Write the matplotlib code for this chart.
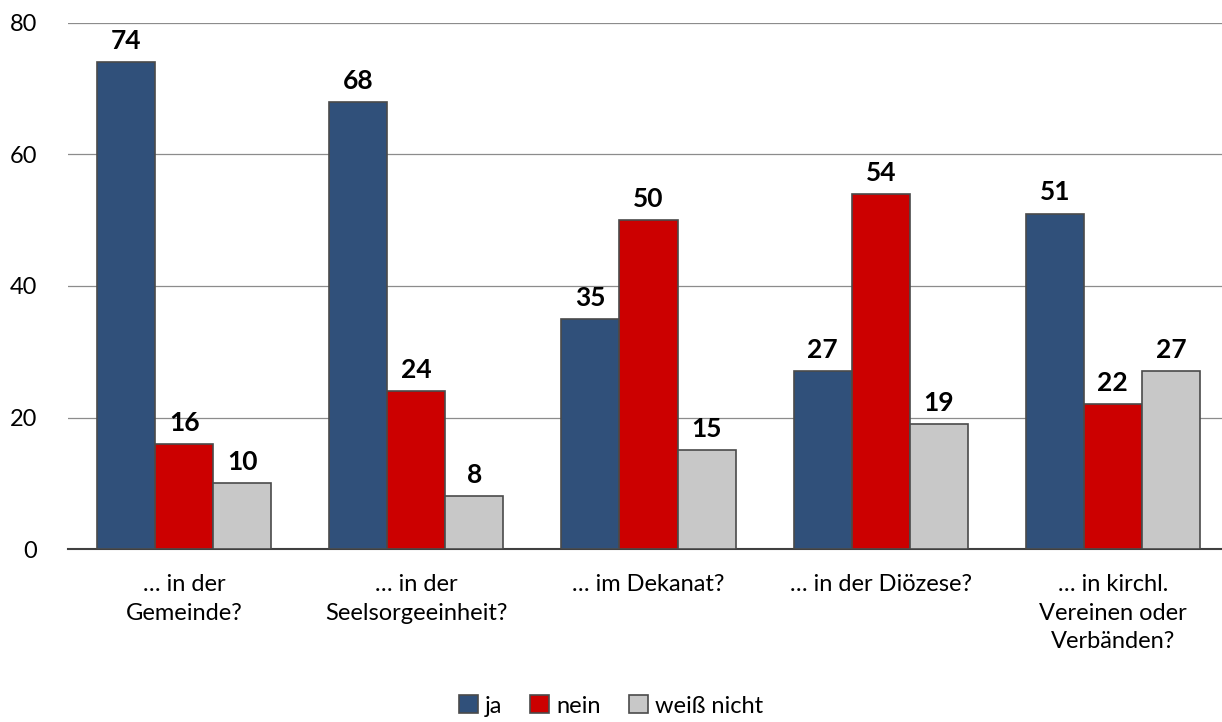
import numpy as np
import matplotlib
matplotlib.use("Agg")
import matplotlib.pyplot as plt

plt.rcParams["font.family"] = ["Lato", "DejaVu Sans"]

categories = ["… in der\nGemeinde?", "… in der\nSeelsorgeeinheit?", "… im Dekanat?",
              "… in der Diözese?", "… in kirchl.\nVereinen oder\nVerbänden?"]
series = ["ja", "nein", "weiß nicht"]
ja = [74, 68, 35, 27, 51]
nein = [16, 24, 50, 54, 22]
weiss = [10, 8, 15, 19, 27]
COLS = ["#30507A", "#CC0000", "#C8C8C8"]

fig = plt.figure(figsize=(12.22, 7.22), dpi=100)
ax = fig.add_axes([68 / 1222, 1 - 549 / 722, 1154 / 1222, (549 - 23) / 722])
x = np.arange(len(categories))
w = 0.25
for i, (vals, col, lab) in enumerate(zip([ja, nein, weiss], COLS, series)):
    pos = x + (i - 1) * w
    bars = ax.bar(pos, vals, w, color=col, edgecolor="#4a4a4a", lw=1.2, label=lab, zorder=3)
    for b, v in zip(bars, vals):
        ax.text(b.get_x() + b.get_width() / 2, v + 1.4, str(v), ha="center", va="bottom",
                fontsize=19, fontweight="bold", zorder=4)

ax.set_xlim(-0.5, 4.47)
ax.set_ylim(0, 80)
ax.set_yticks([0, 20, 40, 60, 80])
ax.yaxis.grid(True, color="#8c8c8c", lw=0.9, zorder=0)
ax.set_xticks(x)
ax.set_xticklabels(categories, fontsize=17, linespacing=1.45, va="top")
ax.tick_params(axis="both", length=0, labelsize=17)
ax.tick_params(axis="x", pad=18)
ax.tick_params(axis="y", pad=22)
for s in ["left", "right", "top"]:
    ax.spines[s].set_visible(False)
ax.spines["bottom"].set_color("#404040")
ax.spines["bottom"].set_linewidth(1.5)

fig.legend(loc="center", bbox_to_anchor=(0.5, 1 - 706 / 722), ncol=3, frameon=False, fontsize=17,
           handlelength=0.8, handleheight=0.8, handletextpad=0.3, columnspacing=1.2)
fig.savefig("out.png", dpi=100)
